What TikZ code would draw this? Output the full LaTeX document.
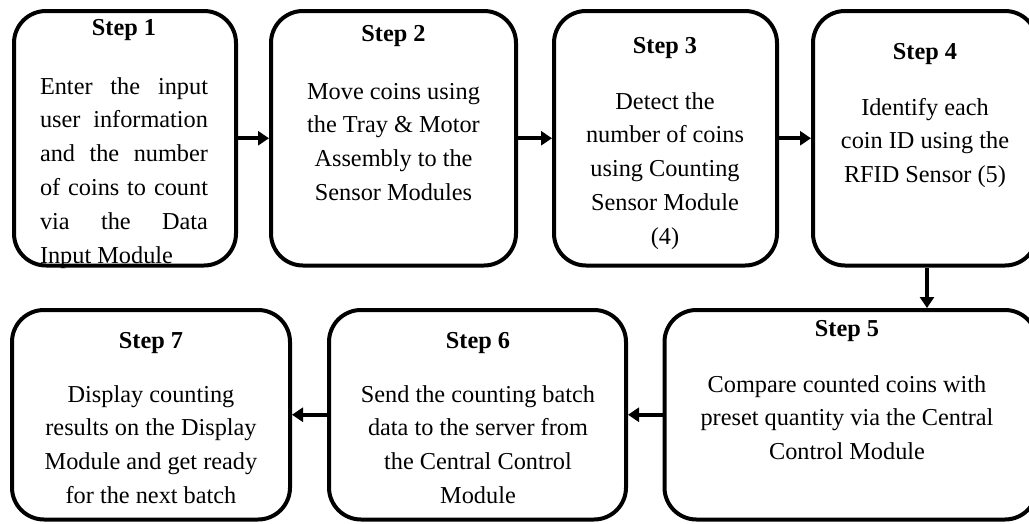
\documentclass[tikz,border=0pt]{standalone}
\usepackage{fontspec}
\setmainfont{Liberation Serif}
\usetikzlibrary{arrows.meta}

\tikzset{
  stepbox/.style={draw, line width=4pt, rectangle, rounded corners=32pt, inner sep=0pt},
  steptitle/.style={anchor=base, inner sep=0pt, font=\bfseries\fontsize{24.3}{33.8}\selectfont},
  % multi-line texts are placed by the baseline of their last line
  steptext/.style={anchor=base, inner sep=0pt, align=center, font=\fontsize{24.3}{33.8}\selectfont},
  flow/.style={line width=4pt, -{Triangle[length=11pt,width=14pt]}}
}
\newcommand{\jline}[1]{\makebox[168pt][s]{#1}}

\begin{document}
\begin{tikzpicture}[x=1pt, y=-1pt]
  \useasboundingbox (0,0) rectangle (1029,523);
  \fill[white] (0,0) rectangle (1029,523);
  \clip (0,0) rectangle (1029,523);

  % boxes
  \node[stepbox, minimum width=222pt, minimum height=254.5pt] (b1) at (125,138.25) {};
  \node[stepbox, minimum width=245pt, minimum height=254.5pt] (b2) at (393.5,138.25) {};
  \node[stepbox, minimum width=223pt, minimum height=254.5pt] (b3) at (665.5,138.25) {};
  \node[stepbox, minimum width=224pt, minimum height=254.5pt] (b4) at (925,138.25) {};
  \node[stepbox, minimum width=372.5pt, minimum height=209.5pt] (b5) at (850.75,414.75) {};
  \node[stepbox, minimum width=297pt, minimum height=209.5pt] (b6) at (477.5,414.75) {};
  \node[stepbox, minimum width=278pt, minimum height=209.5pt] (b7) at (151,414.75) {};

  % step 1
  \node[steptitle] (t1) at (124,35) {Step 1};
  \node[anchor=base, inner sep=0pt, align=left, font=\fontsize{24.3}{33.8}\selectfont] (x1) at (124,263)
    {\jline{Enter the input}\\ \jline{user information}\\ \jline{and the number}\\
     \jline{of coins to count}\\ \jline{via the Data}\\ \makebox[168pt][l]{Input Module}};

  % step 2
  \node[steptitle] (t2) at (393.5,41) {Step 2};
  \node[steptext] (x2) at (393.5,200.4) {Move coins using\\ the Tray \& Motor\\ Assembly to the\\ Sensor Modules};

  % step 3
  \node[steptitle] (t3) at (665,53) {Step 3};
  \node[steptext] (x3) at (665,244.2) {Detect the\\ number of coins\\ using Counting\\ Sensor Module\\ (4)};

  % step 4
  \node[steptitle] (t4) at (925,59) {Step 4};
  \node[steptext] (x4) at (925,182.6) {Identify each\\ coin ID using the\\ RFID Sensor (5)};

  % step 5
  \node[steptitle] (t5) at (847,336) {Step 5};
  \node[steptext] (x5) at (847,459.6) {Compare counted coins with\\ preset quantity via the Central\\ Control Module};

  % step 6
  \node[steptitle] (t6) at (478,348) {Step 6};
  \node[steptext] (x6) at (478,503.4) {Send the counting batch\\ data to the server from\\ the Central Control\\ Module};

  % step 7
  \node[steptitle] (t7) at (151,348) {Step 7};
  \node[steptext] (x7) at (151,503.4) {Display counting\\ results on the Display\\ Module and get ready\\ for the next batch};

  % connectors
  \draw[flow] (b1) -- (b2);
  \draw[flow] (b2) -- (b3);
  \draw[flow] (b3) -- (b4);
  \draw[flow] ([xshift=2pt]b4.south) -- ([xshift=2pt]b4.south |- b5.north);
  \draw[flow] (b5) -- (b6);
  \draw[flow] (b6) -- (b7);
\end{tikzpicture}
\end{document}
